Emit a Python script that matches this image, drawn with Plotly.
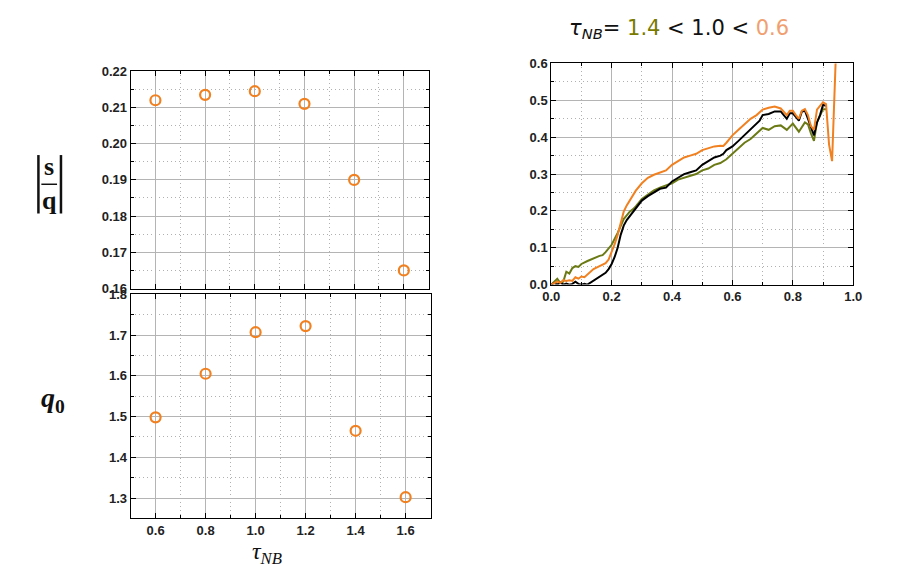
import plotly.graph_objects as go

# ---------------- data ----------------
tau_nb = [0.6, 0.8, 1.0, 1.2, 1.4, 1.6]
s_over_q = [0.212, 0.2135, 0.2145, 0.211, 0.190, 0.165]
q0 = [1.498, 1.605, 1.707, 1.722, 1.465, 1.302]

x_black = [0, 0.01, 0.02, 0.03, 0.04, 0.05, 0.06, 0.07, 0.08, 0.09, 0.10, 0.11, 0.12, 0.13, 0.14,
           0.15, 0.16, 0.17, 0.18, 0.19, 0.20, 0.21, 0.22, 0.23, 0.24, 0.25, 0.26, 0.27, 0.28, 0.29,
           0.30, 0.32, 0.34, 0.36, 0.38, 0.40, 0.42, 0.44, 0.46, 0.48, 0.50, 0.52, 0.54, 0.56, 0.57,
           0.58, 0.60, 0.62, 0.64, 0.66, 0.68, 0.69, 0.70, 0.72, 0.74, 0.76, 0.77, 0.78, 0.79, 0.80,
           0.81, 0.82, 0.83, 0.84, 0.85, 0.86, 0.87, 0.88, 0.89, 0.90, 0.91]
y_black = [0, 0.004, 0, 0.006, 0, 0.003, 0, 0.002, 0.008, 0.002, 0, 0.002, 0, 0.005, 0.012,
           0.016, 0.02, 0.026, 0.032, 0.042, 0.056, 0.075, 0.10, 0.135, 0.16, 0.175, 0.185, 0.195, 0.205, 0.215,
           0.228, 0.24, 0.25, 0.26, 0.263, 0.28, 0.29, 0.30, 0.305, 0.31, 0.325, 0.335, 0.345, 0.35, 0.355,
           0.365, 0.375, 0.39, 0.405, 0.42, 0.435, 0.445, 0.46, 0.463, 0.47, 0.47, 0.46, 0.45, 0.465, 0.465,
           0.455, 0.445, 0.47, 0.472, 0.45, 0.43, 0.405, 0.44, 0.46, 0.488, 0.485]

x_olive = [0, 0.01, 0.02, 0.03, 0.04, 0.05, 0.06, 0.07, 0.08, 0.09, 0.10, 0.12, 0.14, 0.16, 0.17,
           0.18, 0.20, 0.22, 0.24, 0.26, 0.27, 0.28, 0.30, 0.32, 0.34, 0.36, 0.38, 0.40, 0.42, 0.44,
           0.46, 0.48, 0.50, 0.52, 0.54, 0.56, 0.58, 0.60, 0.62, 0.64, 0.66, 0.68, 0.70, 0.72, 0.74,
           0.76, 0.78, 0.80, 0.82, 0.84, 0.85, 0.86, 0.87, 0.88, 0.89, 0.90, 0.91]
y_olive = [0, 0.008, 0.016, 0.004, 0.008, 0.035, 0.03, 0.045, 0.05, 0.048, 0.056, 0.064, 0.072, 0.078, 0.08,
           0.088, 0.108, 0.14, 0.178, 0.198, 0.204, 0.212, 0.232, 0.245, 0.256, 0.263, 0.27, 0.275, 0.285, 0.29,
           0.295, 0.30, 0.31, 0.315, 0.325, 0.33, 0.34, 0.355, 0.37, 0.385, 0.395, 0.41, 0.425, 0.42, 0.43,
           0.432, 0.42, 0.437, 0.415, 0.44, 0.435, 0.41, 0.39, 0.44, 0.46, 0.476, 0.476]

x_orange = [0, 0.01, 0.02, 0.03, 0.04, 0.05, 0.06, 0.07, 0.08, 0.09, 0.10, 0.11, 0.12, 0.14, 0.16,
            0.18, 0.19, 0.20, 0.21, 0.22, 0.23, 0.24, 0.25, 0.26, 0.27, 0.28, 0.30, 0.32, 0.34, 0.36,
            0.38, 0.40, 0.42, 0.44, 0.46, 0.48, 0.50, 0.52, 0.54, 0.56, 0.57, 0.58, 0.60, 0.62, 0.64,
            0.66, 0.68, 0.70, 0.72, 0.74, 0.76, 0.77, 0.78, 0.79, 0.80, 0.81, 0.82, 0.83, 0.84, 0.85,
            0.86, 0.87, 0.88, 0.89, 0.90, 0.91, 0.915, 0.92, 0.93, 0.935, 0.94, 0.945]
y_orange = [0, 0.004, 0.008, 0.005, 0.012, 0.01, 0.012, 0.01, 0.02, 0.016, 0.022, 0.02, 0.028, 0.042, 0.05,
            0.058, 0.068, 0.088, 0.11, 0.135, 0.17, 0.198, 0.215, 0.228, 0.243, 0.255, 0.275, 0.29, 0.298, 0.305,
            0.31, 0.325, 0.335, 0.345, 0.35, 0.355, 0.365, 0.37, 0.375, 0.377, 0.376, 0.385, 0.405, 0.42, 0.435,
            0.45, 0.46, 0.475, 0.48, 0.483, 0.478, 0.47, 0.46, 0.472, 0.472, 0.46, 0.45, 0.472, 0.476, 0.46,
            0.43, 0.42, 0.475, 0.485, 0.495, 0.49, 0.44, 0.38, 0.335, 0.45, 0.6, 0.68]

# ---------------- styling ----------------
W, H = 924, 578
def px_x(p): return p / W
def px_y(p): return 1 - p / H

ORANGE = "#f08020"
OLIVE = "#6b7a14"
GRID = "#b4b4b4"
MINOR = "#b0b0b0"
TICKFONT = dict(family="Liberation Sans, Arial", size=13, color="#222222", weight="bold")

fig = go.Figure()

fig.add_trace(go.Scatter(x=tau_nb, y=s_over_q, mode="markers", xaxis="x", yaxis="y",
                         marker=dict(symbol="circle-open", size=10, color=ORANGE, line=dict(width=2.2, color=ORANGE)),
                         showlegend=False))
fig.add_trace(go.Scatter(x=tau_nb, y=q0, mode="markers", xaxis="x2", yaxis="y2",
                         marker=dict(symbol="circle-open", size=10, color=ORANGE, line=dict(width=2.2, color=ORANGE)),
                         showlegend=False))
fig.add_trace(go.Scatter(x=x_olive, y=y_olive, mode="lines", xaxis="x3", yaxis="y3",
                         line=dict(color=OLIVE, width=2), showlegend=False))
fig.add_trace(go.Scatter(x=x_black, y=y_black, mode="lines", xaxis="x3", yaxis="y3",
                         line=dict(color="#000000", width=2), showlegend=False))
fig.add_trace(go.Scatter(x=x_orange, y=y_orange, mode="lines", xaxis="x3", yaxis="y3",
                         line=dict(color=ORANGE, width=2), showlegend=False))

def axis(domain, rng, dtick, minor_dtick, tick0, fmt, anchor, showlabels=True):
    return dict(domain=domain, range=rng, dtick=dtick, tick0=tick0, tickformat=fmt,
                anchor=anchor, showline=True, linecolor="black", linewidth=1, mirror="ticks",
                ticks="inside", ticklen=5, tickcolor="black", showgrid=True, gridcolor=GRID,
                gridwidth=1, zeroline=False, tickfont=TICKFONT, showticklabels=showlabels,
                minor=dict(dtick=minor_dtick, showgrid=True, gridcolor=MINOR, griddash="1px,3px",
                           ticks="inside", ticklen=3, tickcolor="black"))

fig.update_layout(
    width=W, height=H, margin=dict(l=0, r=0, t=0, b=0),
    paper_bgcolor="white", plot_bgcolor="white",
    xaxis=axis([px_x(124), px_x(428)], [0.5, 1.7], 0.2, 0.1, 0.6, ".1f", "y", showlabels=False),
    yaxis=axis([px_y(289), px_y(66)], [0.16, 0.22], 0.01, 0.005, 0.16, ".2f", "x"),
    xaxis2=axis([px_x(124), px_x(430)], [0.5, 1.7], 0.2, 0.1, 0.6, ".1f", "y2"),
    yaxis2=axis([px_y(525), px_y(295)], [1.25, 1.8], 0.1, 0.05, 1.3, ".1f", "x2"),
    xaxis3=axis([px_x(553), px_x(861)], [0, 1.0], 0.2, 0.1, 0, ".1f", "y3"),
    yaxis3=axis([px_y(285), px_y(58)], [0, 0.6], 0.1, 0.05, 0, ".1f", "x3"),
)

SERIF = "Liberation Serif, DejaVu Serif, serif"

def note(x, y, text, size, family=SERIF):
    return dict(x=px_x(x), y=px_y(y), xref="paper", yref="paper", text=text,
                xanchor="center", yanchor="middle", showarrow=False,
                font=dict(family=family, size=size, color="#111"))

ann = [
    note(41, 164, "<b>s</b>", 26),
    note(41, 199, "<b>q</b>", 26),
    note(45, 403, "<b><i>q</i><sub>0</sub></b>", 28),
    note(263, 561, "<i>τ</i><sub><i>NB</i></sub>", 24),
    note(683, 23, "<i>τ</i><sub><i>NB</i></sub>= <span style='color:#7a7a00'>1.4</span> &lt; 1.0 &lt; "
                  "<span style='color:#f0a070'>0.6</span>", 21, "DejaVu Sans, Liberation Sans"),
]
fig.update_layout(annotations=ann)

shapes = [
    dict(type="line", xref="paper", yref="paper", x0=px_x(33), x1=px_x(49), y0=px_y(182), y1=px_y(182),
         line=dict(color="#111", width=1.5)),
    dict(type="line", xref="paper", yref="paper", x0=px_x(30), x1=px_x(30), y0=px_y(152), y1=px_y(212),
         line=dict(color="#111", width=2.5)),
    dict(type="line", xref="paper", yref="paper", x0=px_x(53), x1=px_x(53), y0=px_y(152), y1=px_y(212),
         line=dict(color="#111", width=2.5)),
]
fig.update_layout(shapes=shapes)

fig.write_html("out.html")
